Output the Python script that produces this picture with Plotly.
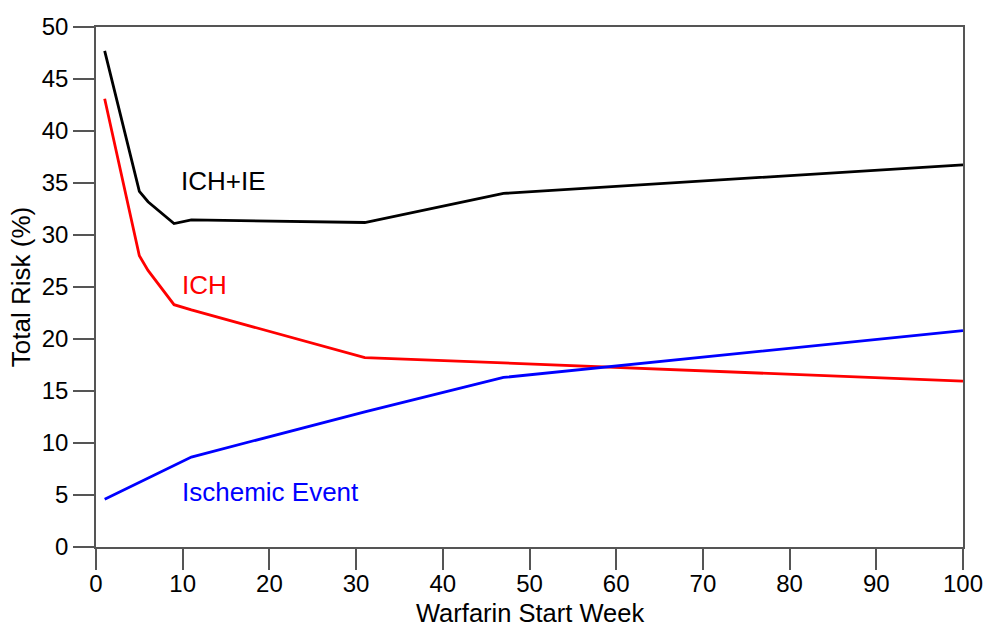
import plotly.graph_objects as go

# Warfarin start week (x) and risk components (%)
weeks = [1, 5, 6, 9, 11, 31, 47, 100]
ich = [43.1, 28.0, 26.6, 23.3, 22.8, 18.2, 17.7, 15.95]
ischemic = [4.6, 6.2, 6.6, 7.8, 8.65, 13.0, 16.3, 20.8]
ich_plus_ie = [47.7, 34.2, 33.2, 31.1, 31.45, 31.2, 34.0, 36.75]

x_ticks = [0, 10, 20, 30, 40, 50, 60, 70, 80, 90, 100]
y_ticks = [0, 5, 10, 15, 20, 25, 30, 35, 40, 45, 50]

FONT = "Liberation Sans, Arial, Helvetica, sans-serif"

fig = go.Figure()
series = [
    (ich_plus_ie, "#000000", "ICH+IE"),
    (ich, "#ff0000", "ICH"),
    (ischemic, "#0000ff", "Ischemic Event"),
]
for values, color, name in series:
    fig.add_trace(go.Scatter(x=weeks, y=values, mode="lines", name=name,
                             line=dict(color=color, width=2.8)))

# Inline series labels
labels = [
    (9.6, 35.2, "ICH+IE", "#000000"),
    (9.7, 25.2, "ICH", "#ff0000"),
    (9.7, 5.3, "Ischemic Event", "#0000ff"),
]
for lx, ly, text, color in labels:
    fig.add_annotation(x=lx, y=ly, text=text, showarrow=False, xanchor="left",
                       yanchor="middle", font=dict(family=FONT, size=26, color=color))

axis_common = dict(
    showgrid=False, zeroline=False, showline=True, linecolor="#555555",
    linewidth=1.5, mirror=True, ticks="outside", ticklen=21, tickwidth=1.5,
    tickcolor="#555555", tickfont=dict(family=FONT, size=24, color="#000000"),
    automargin=False,
)

fig.update_layout(
    width=988, height=628,
    margin=dict(l=96, r=25, t=27, b=81),
    paper_bgcolor="white", plot_bgcolor="white",
    showlegend=False,
    font=dict(family=FONT, color="#000000"),
    xaxis=dict(range=[0, 100], tickvals=x_ticks, ticklabelstandoff=-7,
               **axis_common),
    yaxis=dict(range=[0, 50], tickvals=y_ticks,
               title=dict(text="Total Risk (%)", font=dict(family=FONT, size=26),
                          standoff=4),
               **axis_common),
)

# x-axis title placed just below the tick labels
fig.add_annotation(x=0.5, xref="paper", y=0, yref="paper", yshift=-66,
                   text="Warfarin Start Week", showarrow=False,
                   xanchor="center", yanchor="middle", borderpad=0,
                   font=dict(family=FONT, size=25.5, color="#000000"))

fig.write_html("out.html")
